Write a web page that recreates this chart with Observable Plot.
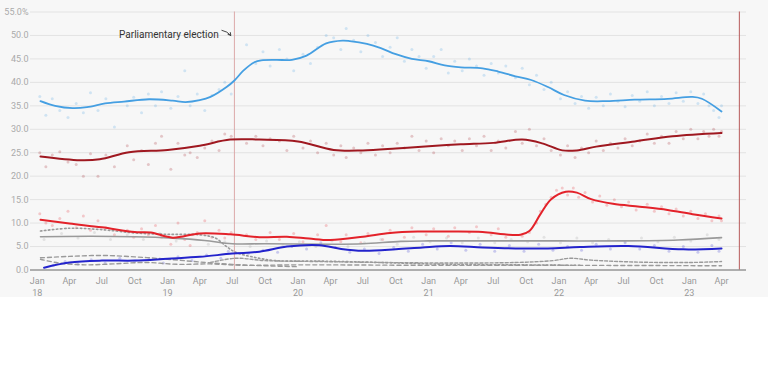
<!DOCTYPE html>
<html>
<head>
<meta charset="utf-8">
<script src="https://cdn.jsdelivr.net/npm/d3@7"></script>
<script src="https://cdn.jsdelivr.net/npm/@observablehq/plot@0.6"></script>
<style>
  html, body { margin: 0; padding: 0; background: #ffffff; }
  #chart svg { display: block; }
</style>
</head>
<body>
<div id="chart"></div>
<script>
// ---- Smoothed trend lines (date, %) ----
const ndLine = [["2018-01-10",36.0],["2018-02-20",35.0],["2018-04-10",34.5],["2018-05-20",34.7],["2018-07-10",35.5],["2018-09-01",35.9],["2018-11-10",36.4],["2019-01-15",36.1],["2019-02-20",35.8],["2019-04-01",36.2],["2019-05-01",36.9],["2019-06-15",39.0],["2019-07-07",40.4],["2019-08-01",42.5],["2019-09-01",44.3],["2019-09-20",44.7],["2019-11-01",44.8],["2019-12-15",44.8],["2020-01-25",45.7],["2020-03-20",48.3],["2020-05-05",48.9],["2020-05-25",48.8],["2020-07-12",48.2],["2020-08-20",47.3],["2020-10-01",46.0],["2020-11-15",45.0],["2021-01-01",44.5],["2021-02-15",43.6],["2021-04-01",43.2],["2021-06-01",43.0],["2021-07-15",42.3],["2021-09-01",41.3],["2021-10-15",40.5],["2021-12-01",39.0],["2022-01-15",37.3],["2022-03-15",36.1],["2022-05-15",36.0],["2022-08-01",36.3],["2022-11-01",36.5],["2023-01-10",36.9],["2023-02-05",36.5],["2023-04-01",33.8]];
const syrizaLine = [["2018-01-10",24.2],["2018-05-01",23.4],["2018-06-25",23.6],["2018-09-15",25.1],["2019-01-01",25.6],["2019-04-01",26.5],["2019-06-25",27.8],["2019-09-15",27.8],["2020-01-01",27.4],["2020-04-10",25.6],["2020-07-01",25.5],["2020-10-01",25.9],["2021-01-01",26.4],["2021-04-01",26.8],["2021-07-01",27.1],["2021-09-20",27.8],["2021-11-15",27.0],["2022-01-10",25.5],["2022-02-20",25.5],["2022-04-15",26.3],["2022-08-01",27.4],["2022-11-15",28.5],["2023-04-01",29.2]];
const kinalLine = [["2018-01-10",10.7],["2018-04-01",9.9],["2018-07-01",9.1],["2018-10-01",8.1],["2018-11-15",8.0],["2019-01-15",6.9],["2019-04-01",7.8],["2019-06-25",7.6],["2019-09-15",7.0],["2019-12-01",7.1],["2020-02-01",6.7],["2020-04-01",6.4],["2020-07-01",7.1],["2020-09-15",7.9],["2020-12-01",8.2],["2021-03-01",8.2],["2021-06-01",8.1],["2021-08-01",7.6],["2021-09-15",7.5],["2021-10-10",8.3],["2021-11-10",11.9],["2021-12-10",15.1],["2022-01-20",16.7],["2022-02-20",16.5],["2022-04-01",15.1],["2022-06-01",14.1],["2022-08-15",13.5],["2022-11-01",12.8],["2023-01-10",11.9],["2023-04-01",11.0]];
const elLine = [["2018-01-20",0.5],["2018-04-01",1.6],["2018-07-01",2.0],["2018-10-01",2.0],["2019-01-01",2.4],["2019-04-01",2.8],["2019-07-01",3.5],["2019-09-15",3.9],["2019-12-01",5.0],["2020-03-01",5.3],["2020-05-01",4.5],["2020-07-01",4.1],["2020-10-01",4.4],["2020-12-15",4.8],["2021-03-01",5.1],["2021-06-01",4.8],["2021-09-01",4.6],["2021-12-01",4.6],["2022-03-01",4.9],["2022-07-15",5.1],["2022-12-15",4.4],["2023-04-01",4.6]];
const kkeLine = [["2018-01-10",7.1],["2018-06-01",7.2],["2018-10-01",7.1],["2019-01-15",6.8],["2019-04-15",6.3],["2019-07-01",5.6],["2019-10-01",5.6],["2020-04-01",5.5],["2020-07-01",5.6],["2020-10-15",6.1],["2021-01-01",6.2],["2021-07-01",6.2],["2022-01-01",6.2],["2022-07-01",6.2],["2022-12-01",6.4],["2023-04-01",6.9]];
const gdLine = [["2018-01-10",8.3],["2018-04-01",8.9],["2018-07-01",8.6],["2018-10-01",7.9],["2019-01-01",7.6],["2019-04-01",7.5],["2019-05-15",6.8],["2019-06-15",5.0],["2019-07-10",3.8],["2019-09-01",2.7],["2019-11-01",2.0],["2020-03-01",1.9],["2020-07-01",1.7],["2020-10-01",1.5],["2021-03-01",1.2],["2021-09-01",1.1],["2022-03-01",1.0]];
const potamiLine = [["2018-01-10",2.6],["2018-04-01",2.9],["2018-07-01",3.1],["2018-10-01",2.8],["2019-01-01",2.3],["2019-04-01",1.7],["2019-07-01",1.2],["2019-10-01",0.9],["2020-01-01",0.7]];
const ekLine = [["2018-01-10",2.3],["2018-03-01",1.5],["2018-05-15",1.1],["2018-08-01",1.3],["2018-11-01",1.6],["2019-02-01",1.2],["2019-05-01",1.3],["2019-08-01",1.0],["2020-01-01",1.1],["2021-01-01",1.0],["2022-01-01",1.0],["2023-04-01",0.9]];
const meraLine = [["2019-05-01",1.6],["2019-07-10",2.5],["2019-10-01",2.0],["2020-03-01",1.8],["2020-09-01",1.6],["2021-03-01",1.5],["2021-09-01",1.6],["2021-12-15",2.0],["2022-02-01",2.5],["2022-04-01",2.1],["2022-08-01",1.7],["2023-01-01",1.6],["2023-04-01",1.8]];

// ---- Individual polls (date, %) ----
const ndPolls = [["2018-01-08",37.0],["2018-01-25",33.0],["2018-02-12",36.5],["2018-03-05",34.0],["2018-03-28",32.5],["2018-04-20",35.5],["2018-05-10",33.5],["2018-05-30",37.8],["2018-06-20",34.0],["2018-07-12",36.5],["2018-08-05",30.5],["2018-09-10",35.0],["2018-09-28",36.8],["2018-10-20",33.5],["2018-11-08",37.5],["2018-11-28",35.0],["2018-12-15",38.0],["2019-01-10",34.5],["2019-01-30",37.0],["2019-02-18",42.5],["2019-03-05",35.0],["2019-03-25",37.5],["2019-04-15",34.0],["2019-05-05",37.2],["2019-05-25",38.5],["2019-06-10",40.0],["2019-06-28",37.5],["2019-08-10",48.0],["2019-09-05",44.0],["2019-09-25",46.5],["2019-10-15",43.5],["2019-11-10",47.0],["2019-12-01",45.0],["2019-12-20",42.5],["2020-01-15",46.0],["2020-02-05",44.0],["2020-02-25",47.5],["2020-03-20",50.0],["2020-04-10",49.5],["2020-04-30",47.0],["2020-05-15",51.5],["2020-06-05",49.0],["2020-06-25",46.5],["2020-07-15",50.0],["2020-08-05",48.5],["2020-08-25",45.5],["2020-09-15",47.5],["2020-10-05",49.5],["2020-10-25",44.5],["2020-11-15",47.0],["2020-12-05",45.5],["2020-12-25",43.0],["2021-01-15",45.5],["2021-02-05",47.0],["2021-02-25",42.0],["2021-03-15",44.5],["2021-04-05",42.5],["2021-04-25",45.0],["2021-05-15",43.5],["2021-06-05",41.5],["2021-06-25",44.0],["2021-07-15",42.0],["2021-08-05",43.5],["2021-09-01",41.0],["2021-09-20",43.0],["2021-10-10",39.5],["2021-10-30",41.5],["2021-11-20",38.5],["2021-12-10",40.0],["2022-01-05",36.5],["2022-01-25",38.0],["2022-02-15",35.5],["2022-03-05",37.0],["2022-03-25",34.5],["2022-04-15",36.8],["2022-05-05",35.0],["2022-05-25",37.5],["2022-06-15",36.0],["2022-07-05",34.8],["2022-07-25",37.2],["2022-08-15",36.0],["2022-09-05",38.0],["2022-09-25",35.0],["2022-10-15",37.0],["2022-11-05",35.5],["2022-11-25",37.8],["2022-12-15",36.0],["2023-01-05",38.0],["2023-01-25",35.5],["2023-02-10",37.5],["2023-02-25",35.0],["2023-03-10",34.0],["2023-03-25",32.5],["2023-04-01",35.0]];
const syrizaPolls = [["2018-01-08",25.0],["2018-01-25",22.0],["2018-02-12",24.5],["2018-03-05",25.2],["2018-03-28",23.0],["2018-04-20",22.5],["2018-05-10",20.0],["2018-05-30",24.8],["2018-06-20",20.0],["2018-07-12",24.5],["2018-08-05",22.0],["2018-09-10",26.5],["2018-09-28",23.5],["2018-10-20",25.5],["2018-11-08",22.5],["2018-11-28",27.0],["2018-12-15",28.5],["2019-01-10",21.5],["2019-01-30",27.0],["2019-02-18",24.5],["2019-03-05",25.0],["2019-03-25",24.0],["2019-04-15",26.0],["2019-05-05",27.5],["2019-05-25",25.5],["2019-06-10",29.0],["2019-06-28",28.5],["2019-08-10",27.0],["2019-09-05",28.5],["2019-09-25",26.5],["2019-10-15",28.0],["2019-11-10",27.5],["2019-12-01",25.5],["2019-12-20",28.5],["2020-01-15",26.0],["2020-02-05",27.5],["2020-02-25",25.0],["2020-03-20",27.0],["2020-04-10",24.5],["2020-04-30",26.5],["2020-05-15",24.0],["2020-06-05",26.0],["2020-06-25",25.0],["2020-07-15",27.0],["2020-08-05",24.5],["2020-08-25",26.5],["2020-09-15",25.0],["2020-10-05",27.0],["2020-10-25",26.0],["2020-11-15",28.5],["2020-12-05",25.5],["2020-12-25",27.5],["2021-01-15",25.0],["2021-02-05",28.0],["2021-02-25",26.5],["2021-03-15",27.5],["2021-04-05",25.5],["2021-04-25",28.0],["2021-05-15",26.5],["2021-06-05",28.5],["2021-06-25",25.5],["2021-07-15",27.5],["2021-08-05",26.0],["2021-09-01",29.5],["2021-09-20",27.0],["2021-10-10",30.0],["2021-10-30",26.5],["2021-11-20",28.0],["2021-12-10",25.5],["2022-01-05",24.5],["2022-01-25",26.5],["2022-02-15",24.0],["2022-03-05",26.0],["2022-03-25",25.0],["2022-04-15",27.5],["2022-05-05",25.5],["2022-05-25",27.0],["2022-06-15",26.0],["2022-07-05",28.0],["2022-07-25",26.5],["2022-08-15",27.5],["2022-09-05",29.0],["2022-09-25",27.0],["2022-10-15",28.5],["2022-11-05",27.0],["2022-11-25",29.5],["2022-12-15",28.0],["2023-01-05",30.0],["2023-01-25",28.0],["2023-02-10",29.5],["2023-02-25",28.5],["2023-03-10",30.0],["2023-03-25",28.5],["2023-04-01",29.5]];
const kinalPolls = [["2018-01-08",12.0],["2018-01-25",10.0],["2018-02-12",9.5],["2018-03-05",11.0],["2018-03-28",12.5],["2018-04-20",9.0],["2018-05-10",11.5],["2018-05-30",8.5],["2018-06-20",10.5],["2018-07-12",9.0],["2018-08-05",7.5],["2018-09-10",8.5],["2018-09-28",7.0],["2018-10-20",8.8],["2018-11-08",7.5],["2018-11-28",9.5],["2018-12-15",7.0],["2019-01-10",5.5],["2019-01-30",10.0],["2019-02-18",6.5],["2019-03-05",5.2],["2019-03-25",8.0],["2019-04-15",10.5],["2019-05-05",7.0],["2019-05-25",8.5],["2019-06-10",6.8],["2019-06-28",8.0],["2019-08-10",7.5],["2019-09-05",6.5],["2019-10-15",8.0],["2019-11-10",6.5],["2019-12-20",7.8],["2020-01-15",6.0],["2020-02-25",7.5],["2020-03-20",9.5],["2020-04-30",6.0],["2020-05-15",7.5],["2020-06-25",5.8],["2020-07-15",7.8],["2020-08-25",6.5],["2020-09-15",8.5],["2020-10-25",7.0],["2020-11-15",9.0],["2020-12-25",7.5],["2021-01-15",8.8],["2021-02-25",7.2],["2021-03-15",9.0],["2021-04-25",8.0],["2021-05-15",9.2],["2021-06-25",7.5],["2021-07-15",8.8],["2021-08-05",7.0],["2021-09-20",7.2],["2021-10-10",8.0],["2021-10-30",10.0],["2021-11-10",12.5],["2021-11-25",14.0],["2021-12-10",15.5],["2021-12-25",17.0],["2022-01-10",17.5],["2022-01-25",16.0],["2022-02-10",17.5],["2022-02-25",15.5],["2022-03-15",16.5],["2022-04-05",14.5],["2022-04-25",15.8],["2022-05-15",13.8],["2022-06-05",15.0],["2022-06-25",13.5],["2022-07-15",14.5],["2022-08-05",12.8],["2022-09-05",14.0],["2022-09-25",12.5],["2022-10-15",13.5],["2022-11-05",12.0],["2022-11-25",13.0],["2022-12-15",11.5],["2023-01-05",12.5],["2023-01-25",11.0],["2023-02-15",12.0],["2023-03-05",10.5],["2023-03-25",11.5],["2023-04-01",10.5]];
const elPolls = [["2018-02-15",1.0],["2018-03-20",1.8],["2018-04-25",1.2],["2018-06-01",2.2],["2018-07-10",1.5],["2018-08-20",2.5],["2018-10-01",1.8],["2018-11-10",2.3],["2018-12-20",1.5],["2019-01-30",2.8],["2019-03-10",2.0],["2019-04-20",3.2],["2019-05-30",2.5],["2019-06-20",4.0],["2019-08-15",3.5],["2019-09-25",4.2],["2019-11-05",3.8],["2019-12-15",5.0],["2020-01-25",4.5],["2020-03-05",5.8],["2020-04-15",4.8],["2020-05-25",3.8],["2020-07-05",4.5],["2020-08-15",3.5],["2020-09-25",4.8],["2020-11-05",4.0],["2020-12-15",5.5],["2021-01-25",4.5],["2021-03-05",5.8],["2021-04-15",4.2],["2021-05-25",5.5],["2021-07-05",4.0],["2021-08-15",5.2],["2021-09-25",4.0],["2021-11-05",5.5],["2021-12-15",4.2],["2022-01-25",5.0],["2022-03-05",4.2],["2022-04-15",5.5],["2022-05-25",4.5],["2022-07-05",5.8],["2022-08-15",4.5],["2022-09-25",5.2],["2022-11-05",4.0],["2022-12-15",5.0],["2023-01-25",3.8],["2023-03-05",5.2],["2023-03-25",4.0]];
const kkePolls = [["2018-01-20",6.5],["2018-03-10",7.8],["2018-04-25",6.8],["2018-06-10",8.0],["2018-07-25",6.5],["2018-09-10",7.5],["2018-10-25",6.5],["2018-12-10",7.8],["2019-01-25",6.2],["2019-03-10",7.5],["2019-04-25",5.5],["2019-06-10",6.0],["2019-08-20",5.0],["2019-10-05",6.2],["2019-11-20",5.2],["2020-01-05",6.0],["2020-02-20",5.0],["2020-04-05",6.2],["2020-05-20",5.0],["2020-07-05",5.8],["2020-08-20",6.5],["2020-10-05",5.5],["2020-11-20",7.0],["2021-01-05",6.0],["2021-02-20",6.8],["2021-04-05",5.8],["2021-05-20",6.8],["2021-07-05",5.8],["2021-08-20",6.5],["2021-10-05",6.0],["2021-11-20",7.0],["2022-01-05",5.8],["2022-02-20",6.8],["2022-04-05",5.8],["2022-05-20",6.5],["2022-07-05",6.0],["2022-08-20",6.8],["2022-10-05",6.0],["2022-11-20",7.0],["2023-01-05",6.2],["2023-02-20",7.5],["2023-03-25",6.5]];

// ---- Ticks, events, annotation ----
const yTicks = [0,5,10,15,20,25,30,35,40,45,50,55];
const xTickDates = ["2018-01-01","2018-04-01","2018-07-01","2018-10-01","2019-01-01","2019-04-01","2019-07-01","2019-10-01","2020-01-01","2020-04-01","2020-07-01","2020-10-01","2021-01-01","2021-04-01","2021-07-01","2021-10-01","2022-01-01","2022-04-01","2022-07-01","2022-10-01","2023-01-01","2023-04-01"];
const monthNames = ["Jan","Feb","Mar","Apr","May","Jun","Jul","Aug","Sep","Oct","Nov","Dec"];
const electionDates = ["2019-07-07"];
const nextElectionDates = ["2023-05-21"];
const annotationText = [{d:"2019-05-24", v:50.2, label:"Parliamentary election"}];
const annotationArrow = [{d1:"2019-06-02", v1:51.1, d2:"2019-06-27", v2:50.0}];

const toRows = arr => arr.map(([d,v]) => ({date: new Date(d), value: v}));
const D = s => new Date(s);

const series = [
  {line: ndLine, polls: ndPolls, color: "#459fe2", width: 1.8, dash: null},
  {line: syrizaLine, polls: syrizaPolls, color: "#9f1820", width: 2, dash: null},
  {line: kinalLine, polls: kinalPolls, color: "#e3222a", width: 2, dash: null},
  {line: elLine, polls: elPolls, color: "#2323cc", width: 2, dash: null},
  {line: kkeLine, polls: kkePolls, color: "#9a9a9a", width: 1.6, dash: null},
  {line: gdLine, polls: [], color: "#9a9a9a", width: 1.6, dash: "1.5,2.5"},
  {line: potamiLine, polls: [], color: "#9a9a9a", width: 1.4, dash: "4,3"},
  {line: ekLine, polls: [], color: "#9a9a9a", width: 1.4, dash: "4,3"},
  {line: meraLine, polls: [], color: "#9a9a9a", width: 1.4, dash: "3,2"}
];

const marks = [
  Plot.gridY(yTicks.filter(d => d > 0), {stroke: "#e3e3e3", strokeOpacity: 1}),
  Plot.ruleX(electionDates.map(D), {x: d => d, y1: 0, y2: 55, stroke: "#dcaaaa", strokeWidth: 1}),
  Plot.ruleX(nextElectionDates.map(D), {x: d => d, y1: 0, y2: 55, stroke: "#b85a5a", strokeWidth: 1}),
  Plot.ruleY([0], {stroke: "#666", strokeWidth: 1})
];
for (const s of series) {
  if (s.polls.length) marks.push(Plot.dot(toRows(s.polls), {x: "date", y: "value", r: 1.5, fill: s.color, fillOpacity: 0.22, stroke: "none"}));
}
for (const s of series.slice().reverse()) {
  marks.push(Plot.line(toRows(s.line), {x: "date", y: "value", stroke: s.color, strokeWidth: s.width, strokeDasharray: s.dash, curve: "catmull-rom"}));
}
marks.push(
  Plot.text(annotationText, {x: d => D(d.d), y: "v", text: "label", textAnchor: "end", fontSize: 10, fill: "#333"}),
  Plot.arrow(annotationArrow, {x1: d => D(d.d1), y1: "v1", x2: d => D(d.d2), y2: "v2", bend: 20, stroke: "#333", strokeWidth: 0.9, headLength: 5}),
  Plot.axisY({ticks: yTicks, tickFormat: d => d === 55 ? "55.0%" : d.toFixed(1), tickSize: 0, tickPadding: 2, fontSize: 9, color: "#aaaaaa", label: null}),
  Plot.axisX({ticks: xTickDates.map(D), tickFormat: d => {
      const m = d.getUTCMonth();
      return m === 0 ? "Jan\n" + String(d.getUTCFullYear()).slice(2) : monthNames[m];
    }, tickSize: 0, tickPadding: 6, fontSize: 9, lineHeight: 1.3, color: "#999999", label: null})
);

const chart = Plot.plot({
  width: 768,
  height: 297,
  marginTop: 11.5,
  marginBottom: 27.5,
  marginLeft: 30,
  marginRight: 22,
  style: {background: "#f7f7f7", fontFamily: "Roboto, sans-serif"},
  x: {type: "utc", domain: [D("2017-12-13"), D("2023-06-10")]},
  y: {domain: [0, 55]},
  marks
});
document.getElementById("chart").appendChild(chart);
</script>
</body>
</html>
